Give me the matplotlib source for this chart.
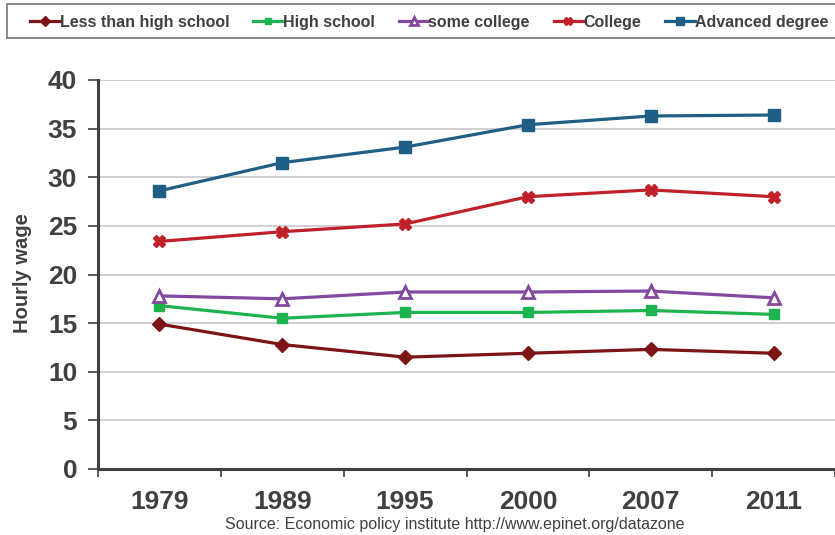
import matplotlib
matplotlib.use("Agg")
import matplotlib.pyplot as plt
from matplotlib.ticker import FixedLocator
from matplotlib.patches import Rectangle

plt.rcParams['font.family'] = ['Liberation Sans', 'DejaVu Sans']

years = ["1979", "1989", "1995", "2000", "2007", "2011"]
less_than_hs = [14.9, 12.8, 11.5, 11.9, 12.3, 11.9]
high_school = [16.8, 15.5, 16.1, 16.1, 16.3, 15.9]
some_college = [17.8, 17.5, 18.2, 18.2, 18.3, 17.6]
college = [23.4, 24.4, 25.2, 28.0, 28.7, 28.0]
advanced = [28.6, 31.5, 33.1, 35.4, 36.3, 36.4]

W, H = 835, 535
fig = plt.figure(figsize=(8.35, 5.35), dpi=100)
ax = fig.add_axes([98 / W, 1 - 469 / H, 1 - 98 / W, (469 - 80) / H])

x = list(range(len(years)))
lw = 2.3
series = [
    ("Less than high school", less_than_hs, "#7D1416", dict(marker="D", markersize=7, markerfacecolor="#7D1416")),
    ("High school", high_school, "#1DB34F", dict(marker="s", markersize=7, markerfacecolor="#1DB34F")),
    ("some college", some_college, "#8348A0", dict(marker="^", markersize=8, markerfacecolor="white", markeredgewidth=2)),
    ("College", college, "#C0202A", dict(marker="X", markersize=9, markerfacecolor="#C0202A")),
    ("Advanced degree", advanced, "#1F5F86", dict(marker="s", markersize=9, markerfacecolor="#1F5F86")),
]
handles = []
for name, vals, col, mk in series:
    h, = ax.plot(x, vals, color=col, lw=lw, label=name, markeredgecolor=col, zorder=3, **mk)
    handles.append(h)

ax.set_xlim(-0.5, 5.5)
ax.set_ylim(0, 40)
ax.set_yticks(range(0, 41, 5))
ax.yaxis.grid(True, color="#C8C8C8", lw=1.2)
ax.set_axisbelow(True)
ax.set_xticks(x)
ax.set_xticklabels(years, fontsize=19, fontweight="bold", color="#404040")
ax.tick_params(axis="x", which="major", length=0, pad=15)
ax.xaxis.set_minor_locator(FixedLocator([i - 0.5 for i in range(len(years) + 1)]))
ax.tick_params(axis="x", which="minor", length=6, width=1.2, color="#404040", direction="out")
ax.tick_params(axis="y", length=7, width=1.2, color="#404040", direction="out", pad=8)
for lab in ax.get_yticklabels():
    lab.set_fontsize(19)
    lab.set_fontweight("bold")
    lab.set_color("#404040")

for s in ["top", "right"]:
    ax.spines[s].set_visible(False)
for s in ["left", "bottom"]:
    ax.spines[s].set_color("#404040")
    ax.spines[s].set_linewidth(2.2)

fig.text(0.027, 0.49, "Hourly wage", rotation=90, fontsize=14.5, fontweight="bold",
         color="#404040", ha="center", va="center")
fig.text(0.545, 1 - 525 / H, "Source: Economic policy institute http://www.epinet.org/datazone",
         fontsize=11.5, color="#404040", ha="center", va="center")

fig.patches.append(Rectangle((7 / W, 1 - 38 / H), 1.0, 34 / H, transform=fig.transFigure,
                             facecolor="white", edgecolor="#808080", lw=1.3, zorder=0))
leg = fig.legend(handles=handles, loc="center left", ncol=5,
                 bbox_to_anchor=(30 / W, 1 - 22 / H - 0.02, 798 / W, 0.04),
                 mode="expand", frameon=False,
                 prop=dict(weight="bold", size=11.5), handlelength=1.85, handletextpad=0.0,
                 borderaxespad=0, columnspacing=1.0, borderpad=0, markerscale=0.7)
for t in leg.get_texts():
    t.set_color("#404040")

fig.savefig("out.png", dpi=100)
